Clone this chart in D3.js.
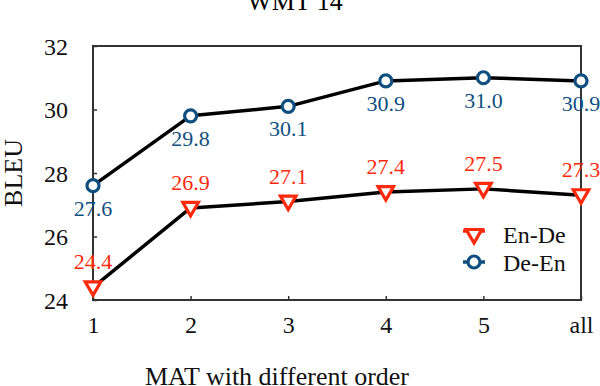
<!DOCTYPE html>
<html>
<head>
<meta charset="utf-8">
<script src="https://cdn.jsdelivr.net/npm/d3@7"></script>
<style>
  body { margin: 0; background: #fff; }
</style>
</head>
<body>
<div id="chart"></div>
<script>
// data
const orders = ["1", "2", "3", "4", "5", "all"];
const enDe = [24.4, 26.9, 27.1, 27.4, 27.5, 27.3];
const deEn = [27.6, 29.8, 30.1, 30.9, 31.0, 30.9];
const yTicks = [24, 26, 28, 30, 32];

const W = 600, H = 386;
const margin = {top: 46, right: 19, bottom: 86, left: 93};
const red = "#ff2a0c", blue = "#0f4f80";
const serif = "'Liberation Serif', 'Times New Roman', Times, serif";

const svg = d3.select("#chart").append("svg")
  .attr("width", W).attr("height", H);

const x = d3.scalePoint().domain(orders).range([margin.left, W - margin.right]);
const y = d3.scaleLinear().domain([24, 32]).range([H - margin.bottom, margin.top]);

// title (cut off at top in original)
svg.append("text")
  .attr("x", 295).attr("y", 10)
  .attr("text-anchor", "middle")
  .attr("font-size", 26)
  .text("WMT 14");

// box
svg.append("rect")
  .attr("x", margin.left).attr("y", margin.top)
  .attr("width", W - margin.right - margin.left)
  .attr("height", H - margin.bottom - margin.top)
  .attr("fill", "none").attr("stroke", "#333").attr("stroke-width", 2);

// axes
const xAxis = svg.append("g")
  .attr("transform", "translate(0," + (H - margin.bottom) + ")")
  .call(d3.axisBottom(x).tickSizeInner(-4).tickSizeOuter(0).tickPadding(16));
const yAxis = svg.append("g")
  .attr("transform", "translate(" + margin.left + ",0)")
  .call(d3.axisLeft(y).tickValues(yTicks).tickSizeInner(-4).tickSizeOuter(0).tickPadding(25));
[xAxis, yAxis].forEach(g => {
  g.select(".domain").remove();
  g.attr("font-family", null).attr("font-size", null);
  g.selectAll(".tick line").attr("stroke", "#333").attr("stroke-width", 1.5);
  g.selectAll(".tick text")
    .attr("font-size", 24).attr("fill", "#111");
});
xAxis.selectAll(".tick text").attr("dy", "0.71em");
yAxis.selectAll(".tick text").attr("dy", "0.34em");

// axis labels
svg.append("text")
  .attr("x", 277).attr("y", 385)
  .attr("text-anchor", "middle")
  .attr("font-size", 26).attr("fill", "#111")
  .text("MAT with different order");
svg.append("text")
  .attr("transform", "translate(22," + ((margin.top + H - margin.bottom) / 2) + ") rotate(-90)")
  .attr("text-anchor", "middle")
  .attr("font-size", 26).attr("fill", "#111")
  .text("BLEU");

const line = d3.line().x((d, i) => x(orders[i])).y(d => y(d));

[enDe, deEn].forEach(vals => {
  svg.append("path")
    .datum(vals)
    .attr("d", line)
    .attr("fill", "none")
    .attr("stroke", "#000")
    .attr("stroke-width", 3.5)
    .attr("stroke-linejoin", "round");
});

const tri = d3.symbol().type(d3.symbolTriangle).size(105);

// En-De markers (downward triangles)
svg.selectAll(".tri")
  .data(enDe).enter().append("path")
  .attr("d", tri)
  .attr("transform", (d, i) => "translate(" + x(orders[i]) + "," + (y(d) - 1) + ") rotate(180)")
  .attr("fill", "#fff").attr("stroke", red).attr("stroke-width", 3.2);

// De-En markers (circles)
svg.selectAll(".circ")
  .data(deEn).enter().append("circle")
  .attr("cx", (d, i) => x(orders[i]))
  .attr("cy", d => y(d))
  .attr("r", 6)
  .attr("fill", "#fff").attr("stroke", blue).attr("stroke-width", 3.2);

// value labels
svg.selectAll(".lblEnDe")
  .data(enDe).enter().append("text")
  .attr("x", (d, i) => x(orders[i]))
  .attr("y", d => y(d) - 18)
  .attr("text-anchor", "middle")
  .attr("font-size", 22).attr("fill", red)
  .text(d => d.toFixed(1));
svg.selectAll(".lblDeEn")
  .data(deEn).enter().append("text")
  .attr("x", (d, i) => x(orders[i]))
  .attr("y", d => y(d) + 30)
  .attr("text-anchor", "middle")
  .attr("font-size", 22).attr("fill", blue)
  .text(d => d.toFixed(1));

// legend
const legend = [
  {name: "En-De", color: red, type: "tri", y: 234},
  {name: "De-En", color: blue, type: "circ", y: 262}
];
legend.forEach(l => {
  const ly = l.y - (l.type === "tri" ? 3 : 0);
  svg.append("line")
    .attr("x1", 463).attr("x2", 485)
    .attr("y1", ly).attr("y2", ly)
    .attr("stroke", l.color).attr("stroke-width", 3.5);
  if (l.type === "tri") {
    svg.append("path").attr("d", tri)
      .attr("transform", "translate(474," + l.y + ") rotate(180)")
      .attr("fill", "#fff").attr("stroke", l.color).attr("stroke-width", 3.2);
  } else {
    svg.append("circle").attr("cx", 474).attr("cy", l.y).attr("r", 6)
      .attr("fill", "#fff").attr("stroke", l.color).attr("stroke-width", 3.2);
  }
  svg.append("text")
    .attr("x", 503).attr("y", l.y + 9)
    .attr("font-size", 24).attr("fill", "#111")
    .text(l.name);
});

svg.selectAll("text").style("font-family", serif);
</script>
</body>
</html>
